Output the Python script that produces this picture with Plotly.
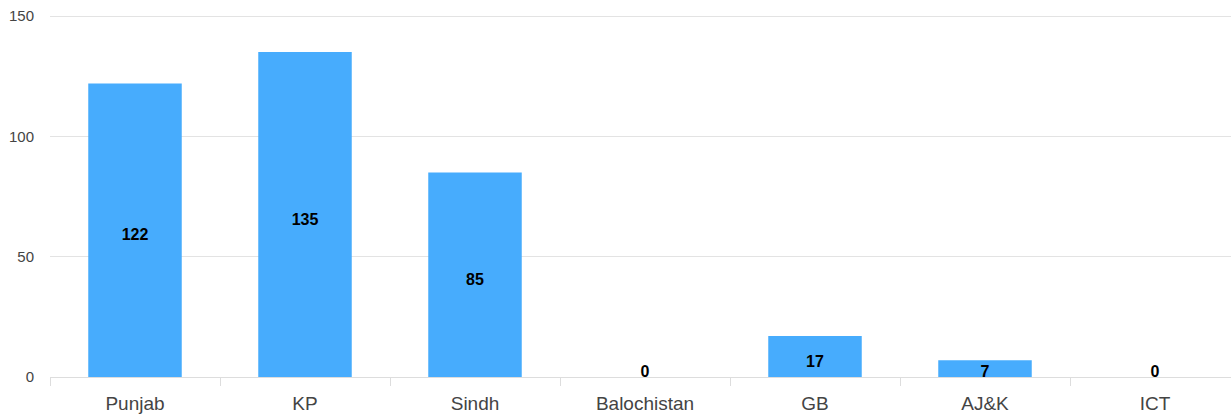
import plotly.graph_objects as go

categories = ["Punjab", "KP", "Sindh", "Balochistan", "GB", "AJ&K", "ICT"]
values = [122, 135, 85, 0, 17, 7, 0]
y_ticks = [0, 50, 100, 150]

# label positions derived from the data (centred in bar, nudged, with a floor)
label_y = [max(v / 2 - 2.5, 1.7) for v in values]

fig = go.Figure()
fig.add_trace(go.Bar(
    x=categories, y=values,
    marker=dict(color="#47acfd", line=dict(width=0)),
    width=0.55,
    hoverinfo="skip",
))
fig.add_trace(go.Scatter(
    x=categories, y=label_y, mode="text",
    text=[str(v) for v in values],
    textfont=dict(family="Liberation Sans, Arial, sans-serif", size=16, color="#000000", weight="bold"),
    textposition="middle center",
    hoverinfo="skip",
))

fig.update_layout(
    width=1231, height=420,
    margin=dict(l=50, r=0, t=15, b=43),
    paper_bgcolor="white", plot_bgcolor="white",
    showlegend=False,
    font=dict(family="Liberation Sans, Arial, sans-serif", color="#444444"),
)
fig.update_xaxes(
    type="category",
    range=[-0.5, 6.5 - 9 / 170],
    tickson="boundaries",
    ticks="outside", ticklen=8, tickcolor="#dddddd", tickwidth=1,
    showgrid=False,
    showline=True, linecolor="#dddddd", linewidth=1,
    tickfont=dict(size=19, color="#444444"),
    ticklabelstandoff=9,
    fixedrange=True,
)
fig.update_yaxes(
    range=[0, 150.42],
    tickvals=y_ticks,
    ticktext=[str(t) for t in y_ticks],
    showgrid=True, gridcolor="#e3e3e3", gridwidth=1,
    zeroline=False,
    ticks="", ticklabelstandoff=15,
    ticklabeloverflow="allow",
    tickfont=dict(size=15, color="#444444"),
    fixedrange=True,
)

fig.write_html(
    "out.html",
    config={"displayModeBar": False},
    post_script="document.body.style.margin='0';document.body.style.overflow='hidden';",
)
